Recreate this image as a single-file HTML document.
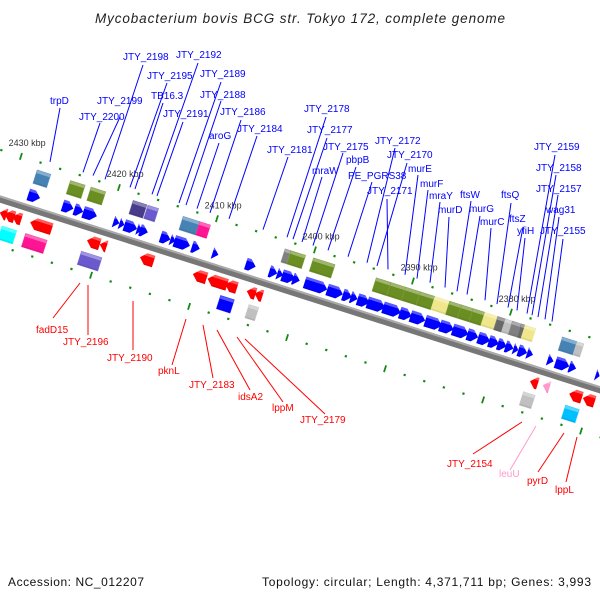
<!DOCTYPE html>
<html><head><meta charset="utf-8"><style>
html,body{margin:0;padding:0;background:#fff;}
svg{display:block;font-family:"Liberation Sans",sans-serif;}
</style></head><body>
<svg id="map" width="600" height="600" viewBox="0 0 600 600" xmlns="http://www.w3.org/2000/svg">
<rect width="600" height="600" fill="#fff"/>
<text x="300" y="23" text-anchor="middle" font-style="italic" font-size="13.5" fill="#222" textLength="410">Mycobacterium bovis BCG str. Tokyo 172, complete genome</text>
<text x="8" y="586" font-size="12" fill="#111" textLength="136">Accession: NC_012207</text>
<text x="591" y="586" text-anchor="end" font-size="12" fill="#111" textLength="329">Topology: circular; Length: 4,371,711 bp; Genes: 3,993</text>
<defs id="defs"></defs>
<g id="labels"></g>
<g id="frame" transform="translate(0,198) rotate(17.64)"></g>
</svg>
<script>
// genes as [leftKbp, rightKbp, color]
const fwdRow1 = [[2428.2,2427.0],[2424.7,2423.6],[2423.5,2422.6],[2422.6,2421.2],[2419.5,2418.9],[2418.9,2418.4],[2418.4,2417.1],[2417.1,2416.6],[2416.8,2416.0],[2414.7,2413.7],[2413.7,2413.2],[2413.3,2411.7],[2411.5,2410.7],[2409.4,2408.8],[2406.0,2405.0],[2403.6,2402.8],[2402.8,2402.2],[2402.3,2401.0],[2401.2,2400.5],[2400.0,2397.7],[2397.7,2396.1],[2396.1,2395.2],[2395.3,2394.6],[2394.6,2393.4],[2393.6,2391.8],[2392.0,2390.2],[2390.3,2389.1],[2389.2,2387.7],[2387.7,2386.0],[2386.2,2384.8],[2384.9,2383.3],[2383.4,2382.3],[2382.3,2381.1],[2381.2,2380.2],[2380.3,2379.4],[2379.5,2378.7],[2378.7,2378.2],[2378.2,2377.3],[2377.3,2376.7],[2375.2,2374.6],[2374.4,2373.0],[2373.0,2372.3],[2370.3,2369.9]];
const fwdRow2 = [[2428.1,2426.7,'#4682b4'],[2424.7,2423.2,'#6b8e23'],[2422.6,2421.1,'#6b8e23'],[2418.3,2416.9,'#483d8b'],[2416.8,2415.7,'#6a5acd'],[2413.2,2411.5,'#4682b4'],[2411.5,2410.4,'#ff1493'],[2402.8,2402.2,'#808080'],[2402.2,2400.7,'#6b8e23'],[2399.9,2397.7,'#6b8e23'],[2393.5,2392.0,'#6b8e23'],[2392.0,2390.5,'#6b8e23'],[2390.5,2389.0,'#6b8e23'],[2389.0,2387.5,'#6b8e23'],[2387.5,2385.9,'#f0e68c'],[2386.0,2384.8,'#6b8e23'],[2384.8,2383.6,'#6b8e23'],[2383.6,2382.4,'#6b8e23'],[2382.4,2380.9,'#f0e68c'],[2381.1,2380.1,'#696969'],[2380.3,2379.3,'#c0c0c0'],[2379.6,2378.7,'#808080'],[2378.7,2378.2,'#696969'],[2378.3,2377.2,'#f0e68c'],[2374.5,2373.0,'#4682b4'],[2373.0,2372.3,'#c0c0c0']];
const revRow1 = [[2430.3,2429.6,'#ff0000'],[2429.8,2428.8,'#ff0000'],[2429.0,2428.1,'#ff0000'],[2427.2,2425.0,'#ff0000'],[2421.4,2420.1,'#ff0000'],[2420.1,2419.4,'#ff0000'],[2416.0,2414.6,'#ff0000'],[2410.6,2409.2,'#ff0000'],[2409.1,2407.1,'#ff0000'],[2407.3,2406.1,'#ff0000'],[2405.1,2404.2,'#ff0000'],[2404.3,2403.5,'#ff0000'],[2376.2,2375.4,'#ff0000'],[2374.9,2374.2,'#ff99cc'],[2372.2,2370.9,'#ff0000'],[2370.8,2369.6,'#ff0000']];
const revRow2 = [[2429.7,2428.2,'#00ffff'],[2427.3,2425.1,'#ff1493'],[2421.6,2419.5,'#6a5acd'],[2407.4,2406.0,'#0000ff'],[2404.5,2403.5,'#c0c0c0'],[2376.5,2375.3,'#c0c0c0'],[2372.2,2370.8,'#00bfff']];
const tickKbp = [2432,2430,2428,2426,2424,2422,2420,2418,2416,2414,2412,2410,2408,2406,2404,2402,2400,2398,2396,2394,2392,2390,2388,2386,2384,2382,2380,2378,2376,2374,2372,2370,2368];
const tickLabels = [2430,2420,2410,2400,2390,2380];
// annotation labels: [text, textX, baseline, lineTopX, lineTopY, lineBottomX]
const fwdLabels = [["trpD",50,104,60,108,50],["JTY_2200",79,120,100,123,83],["JTY_2199",97,104,120,117,93],["JTY_2198",123,60,143,65,105],["JTY_2195",147,79,167,83,130],["TB16.3",151,99,163,103,135],["JTY_2192",176,58,198,63,152],["JTY_2191",163,117,183,122,157],["JTY_2189",200,77,221,82,179],["JTY_2188",200,98,221,101,186],["JTY_2186",220,115,241,120,210],["aroG",209,139,219,143,197],["JTY_2184",237,132,257,136,229],["JTY_2181",267,153,288,157,263],["JTY_2178",304,112,326,117,287],["JTY_2177",307,133,327,138,293],["mraW",312,174,322,177,302],["JTY_2175",323,150,343,153,313],["pbpB",346,163,356,167,328],["PE_PGRS38",348,179,372,182,348],["JTY_2172",375,144,395,148,367],["JTY_2170",387,158,407,163,377],["JTY_2171",367,194,387,199,388],["murE",408,172,418,175,405],["murF",420,187,428,190,417],["mraY",429,199,440,202,430],["murD",438,213,449,217,445],["ftsW",460,198,471,201,457],["murG",469,212,480,216,467],["murC",480,225,491,228,485],["ftsQ",501,198,511,203,497],["ftsZ",509,222,523,227,508],["yfiH",517,234,525,238,517],["JTY_2159",534,150,555,155,527],["JTY_2158",536,171,556,175,532],["JTY_2157",536,192,558,195,538],["wag31",546,213,559,217,545],["JTY_2155",540,234,563,239,552]];
// [text, textX, baseline, x1, y1, x2, y2, color]
const revLabels = [["fadD15",36,333,53,318,80,283,"#f00"],["JTY_2196",63,345,88,335,88,285,"#f00"],["JTY_2190",107,361,133,350,133,301,"#f00"],["pknL",158,374,172,365,186,319,"#f00"],["JTY_2183",189,388,213,378,203,325,"#f00"],["idsA2",238,400,250,390,217,330,"#f00"],["lppM",272,411,283,402,237,337,"#f00"],["JTY_2179",300,423,325,414,245,339,"#f00"],["JTY_2154",447,467,473,454,522,422,"#f00"],["leuU",499,477,510,470,536,426,"#ff99cc"],["pyrD",527,484,538,472,564,433,"#f00"],["lppL",555,493,566,482,577,437,"#f00"]];

const NS='http://www.w3.org/2000/svg';
const COS=Math.cos(17.64*Math.PI/180);
function XA(k){return 301+(2400-k)*9.8;}
function U(k){return XA(k)/COS;}
const frame=document.getElementById('frame'), defs=document.getElementById('defs'), labels=document.getElementById('labels');
function mk(tag,attrs,parent){const e=document.createElementNS(NS,tag);for(const a in attrs)e.setAttribute(a,attrs[a]);parent.appendChild(e);return e;}
function shade(hex,f){let r=parseInt(hex.substr(1,2),16),g=parseInt(hex.substr(3,2),16),b=parseInt(hex.substr(5,2),16);
 if(f>0){r=r+(255-r)*f;g=g+(255-g)*f;b=b+(255-b)*f;}else{r=r*(1+f);g=g*(1+f);b=b*(1+f);}
 return 'rgb('+Math.round(r)+','+Math.round(g)+','+Math.round(b)+')';}
const grads={};
function grad(c){if(grads[c])return grads[c];const id='g'+Object.keys(grads).length;
 const lg=mk('linearGradient',{id:id,x1:0,y1:0,x2:0,y2:1},defs);
 mk('stop',{offset:0,'stop-color':shade(c,0.35)},lg);mk('stop',{offset:0.22,'stop-color':shade(c,0.35)},lg);
 mk('stop',{offset:0.24,'stop-color':c},lg);mk('stop',{offset:0.85,'stop-color':c},lg);mk('stop',{offset:1,'stop-color':shade(c,-0.15)},lg);
 grads[c]='url(#'+id+')';return grads[c];}

// backbone
const bb=mk('line',{x1:-50,y1:1,x2:750,y2:1,stroke:'#777','stroke-width':7},frame);


const bb2=mk('line',{x1:-50,y1:-1.5,x2:750,y2:-1.5,stroke:'#aaa','stroke-width':2},frame);



// ticks
tickKbp.forEach(k=>{[-46,46].forEach(v=>{
 const u=U(k);let e;
 if(k%10===0){e=mk('line',{x1:u,y1:v-3.5,x2:u,y2:v+3.5,stroke:'#138a13','stroke-width':1.8},frame);}
 else{e=mk('rect',{x:u-1.1,y:v-1.1,width:2.2,height:2.2,fill:'#138a13'},frame);}
 
 
});});
tickLabels.forEach(k=>{const xa=XA(k),v=-60;
 const x=xa-v*0.303, y=198+0.318*xa+v*0.953;
 const t=mk('text',{x:x+2,y:y+3,'text-anchor':'middle','font-size':9,fill:'#333'},labels);
 t.textContent=k+' kbp';
 
 
});

function gene(a,b,color,v,h,dir,arrow){
 const u1=U(a),u2=U(b),t=v-h/2,bo=v+h/2,len=u2-u1;let d;
 if(!arrow){d='M'+u1+','+t+'H'+u2+'V'+bo+'H'+u1+'Z';}
 else{const hd=Math.min(6,len);
  if(dir>0)d='M'+u1+','+t+'L'+(u2-hd)+','+t+'L'+u2+','+v+'L'+(u2-hd)+','+bo+'L'+u1+','+bo+'Z';
  else d='M'+u2+','+t+'L'+(u1+hd)+','+t+'L'+u1+','+v+'L'+(u1+hd)+','+bo+'L'+u2+','+bo+'Z';}
 const p=mk('path',{d:d,fill:grad(color),stroke:arrow?'none':shade(color,0.15),'stroke-width':arrow?0:0.5},frame);
 return p;}
fwdRow1.forEach(g=>{const p=gene(g[0],g[1],'#0000ff',-12,12,1,true);
 
 });
fwdRow2.forEach(g=>{const p=gene(g[0],g[1],g[2],-31,14,1,false);
 
 });
revRow1.forEach(g=>{const p=gene(g[0],g[1],g[2],14,12,-1,true);
 
 });
revRow2.forEach(g=>{const p=gene(g[0],g[1],g[2],33,14,-1,false);
 
 });

fwdLabels.forEach(l=>{
 const y2=198+0.318*l[5]-52;
 const ln=mk('line',{x1:l[3],y1:l[4],x2:l[5],y2:y2,stroke:'#0000ff','stroke-width':1},labels);
 
 
 const t=mk('text',{x:l[1],y:l[2],'font-size':10,fill:'#0000ff'},labels);
 t.textContent=l[0];
 
 
});
revLabels.forEach(l=>{
 const ln=mk('line',{x1:l[3],y1:l[4],x2:l[5],y2:l[6],stroke:l[7],'stroke-width':1},labels);
 
 
 const t=mk('text',{x:l[1],y:l[2],'font-size':10,fill:l[7]},labels);
 t.textContent=l[0];
 
 
});
</script>
</body></html>
